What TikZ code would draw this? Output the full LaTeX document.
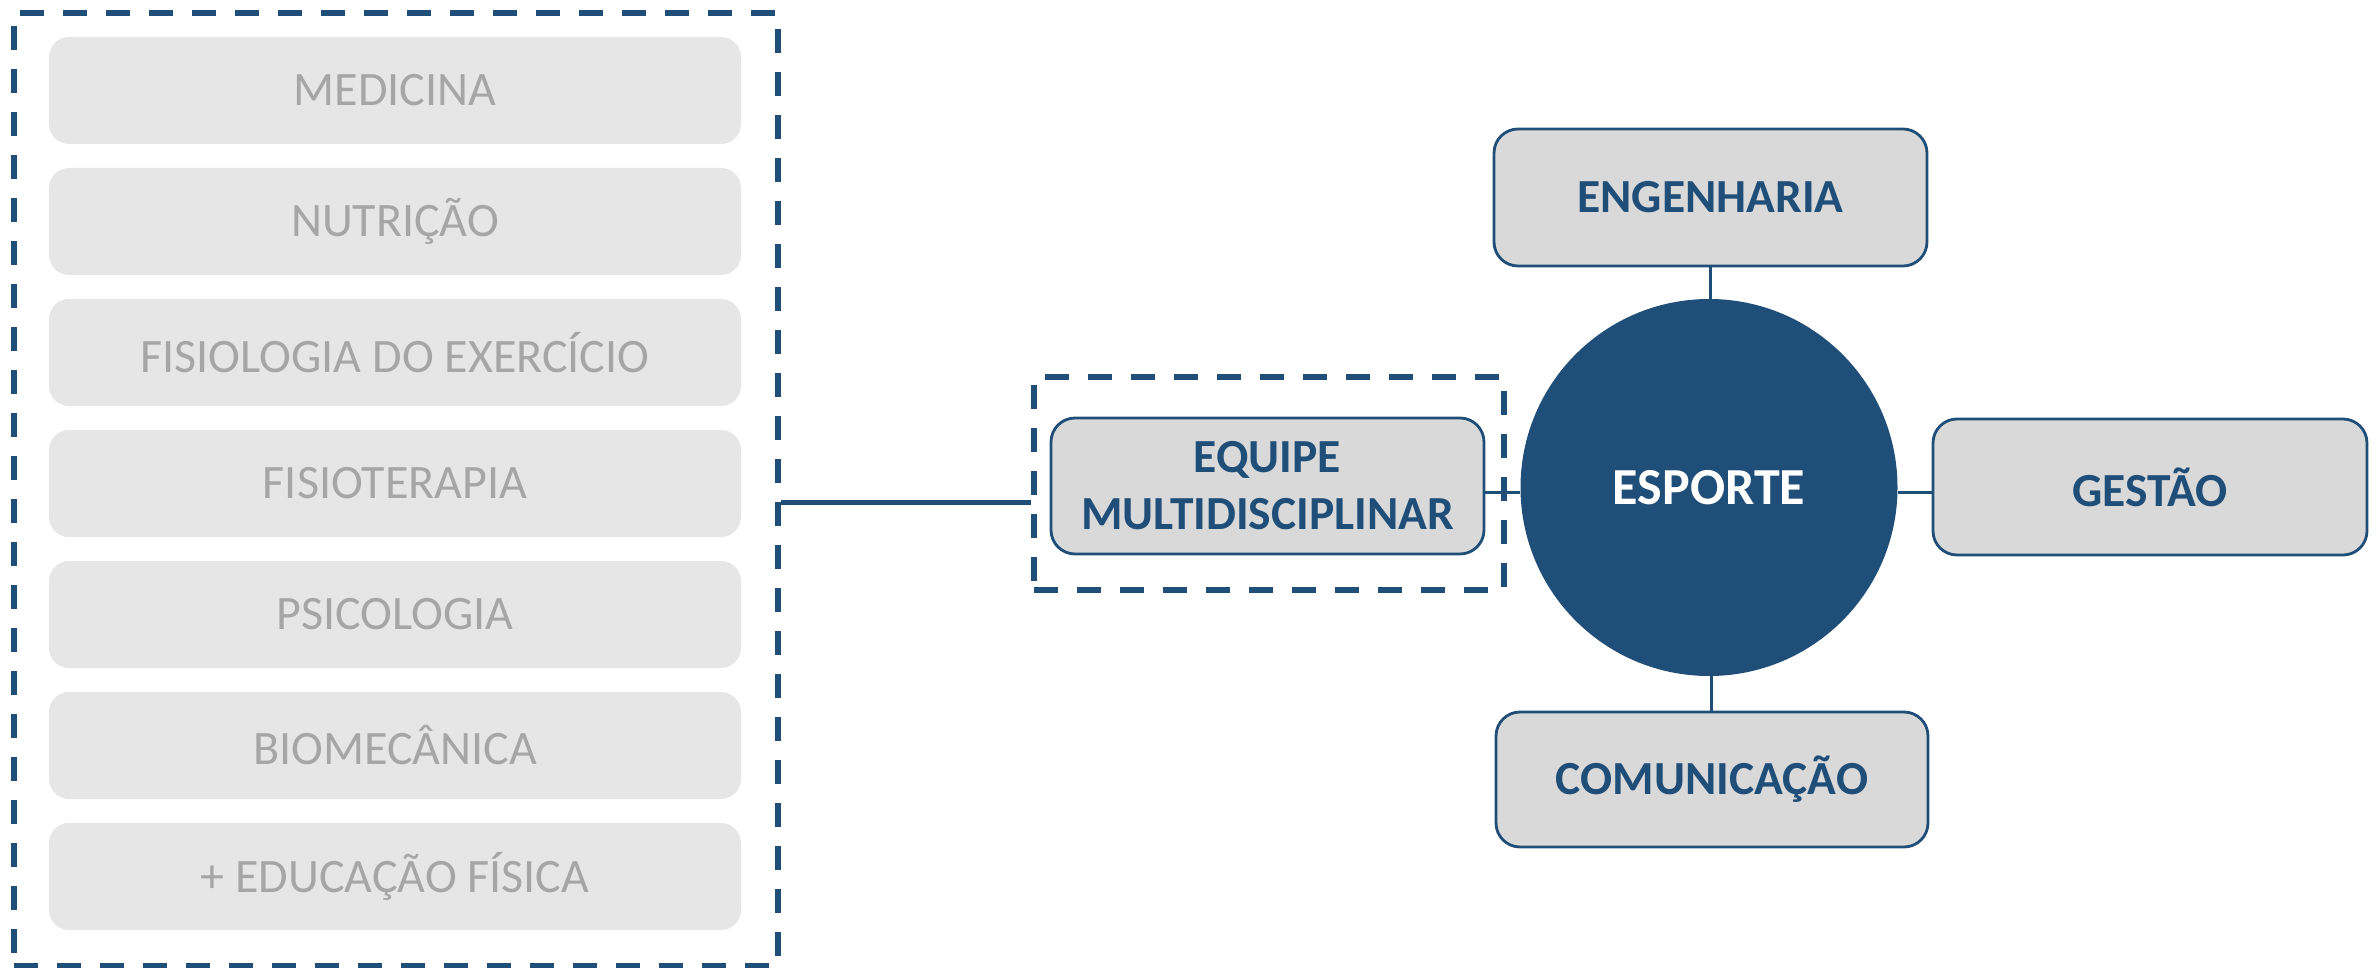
\documentclass[tikz,border=0pt]{standalone}
\usepackage{fontspec}
\setmainfont{Carlito}
\definecolor{dblue}{HTML}{1F4E79}
\definecolor{boxgray}{HTML}{D9D9D9}
\definecolor{lightbox}{HTML}{E6E6E6}
\definecolor{lighttext}{HTML}{A6A6A6}
\tikzset{
  dashbox/.style={draw=dblue, line width=5.5pt, dash pattern=on 24pt off 19pt, inner sep=0pt},
  discbox/.style={fill=lightbox, rounded corners=20pt, minimum width=692pt, minimum height=107pt, inner sep=0pt,
    text=lighttext, font=\fontsize{48}{57}\selectfont},
  areabox/.style={draw=dblue, line width=2.8pt, fill=boxgray, rounded corners=24pt, minimum width=433pt, minimum height=136pt,
    inner sep=0pt, text=dblue, font=\bfseries\fontsize{47.5}{57}\selectfont, align=center},
  hub/.style={circle, fill=dblue, minimum size=377pt, inner sep=0pt, text=white, font=\bfseries\fontsize{52}{60}\selectfont},
  link/.style={draw=dblue, line width=3pt},
  biglink/.style={draw=dblue, line width=5pt}
}
\begin{document}
\begin{tikzpicture}[x=1pt,y=1pt]
\useasboundingbox (0,0) rectangle (2379,-968);
% outer dashed group
\node[dashbox, minimum width=764pt, minimum height=953pt] (outer) at (396,-489.5) {};
\node[discbox] (d1) at (395,-90.5) {MEDICINA};
\node[discbox] (d2) at (395,-221.5) {NUTRIÇÃO};
\node[discbox] (d3) at (395,-352.5) {FISIOLOGIA DO EXERCÍCIO};
\node[discbox] (d4) at (395,-483.5) {FISIOTERAPIA};
\node[discbox] (d5) at (395,-614.5) {PSICOLOGIA};
\node[discbox] (d6) at (395,-745.5) {BIOMECÂNICA};
\node[discbox] (d7) at (395,-876.5) {+ EDUCAÇÃO FÍSICA};
% inner dashed box
\node[dashbox, minimum width=470pt, minimum height=213pt] (inner) at (1269,-483.5) {};
\node[areabox] (equipe) at (1267.5,-486) {EQUIPE\\MULTIDISCIPLINAR};
% hub
\node[hub] (esporte) at (1709,-487.5) {ESPORTE};
\node[areabox, minimum height=137pt] (eng) at (1710.5,-197.5) {ENGENHARIA};
\node[areabox, minimum width=434pt] (gestao) at (2150,-487) {GESTÃO};
\node[areabox, minimum width=432pt, minimum height=135pt] (com) at (1712,-779.5) {COMUNICAÇÃO};
% connectors
\coordinate (lj) at (0,-502);
\draw[biglink] (outer.east |- lj) -- (inner.west |- lj);
\coordinate (rj) at (0,-492);
\draw[link] (equipe.east |- rj) -- (esporte.west |- rj);
\draw[link] (esporte.east |- rj) -- (gestao.west |- rj);
\draw[link] (eng.south -| 1710,0) -- (esporte.north -| 1710,0);
\draw[link] (esporte.south -| 1711,0) -- (com.north -| 1711,0);
\end{tikzpicture}
\end{document}
